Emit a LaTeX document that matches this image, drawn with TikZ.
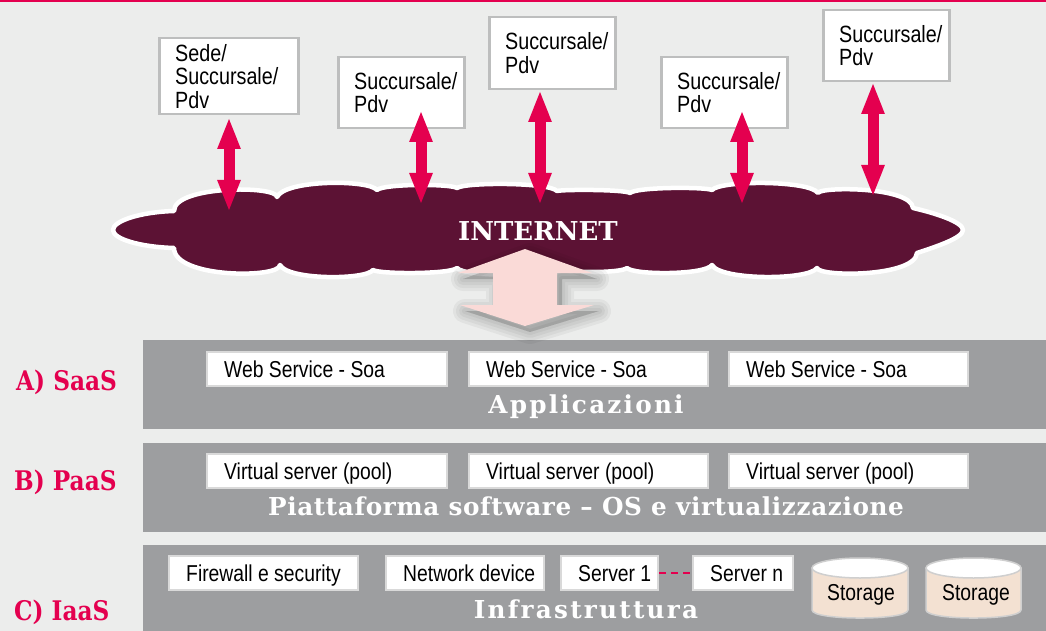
\documentclass[tikz,border=0pt]{standalone}
\usepackage{fontspec}
\setmainfont{Liberation Sans}
\newfontfamily\condsans[FakeStretch=0.84]{Liberation Sans}
\newfontfamily\tserif{DejaVu Serif}
\newfontfamily\sserif[LetterSpace=9]{DejaVu Serif}
\newfontfamily\mserif[LetterSpace=2.5]{DejaVu Serif}
\newfontfamily\lserif[FakeStretch=0.86]{DejaVu Serif}
\usetikzlibrary{arrows.meta}
\definecolor{bg}{HTML}{ECEDEC}
\definecolor{pinkred}{HTML}{E4004F}
\definecolor{wine}{HTML}{5C1234}
\definecolor{layer}{HTML}{9D9EA0}
\definecolor{lightpink}{HTML}{FADAD7}
\definecolor{boxline}{HTML}{BDBEBE}
\definecolor{iline}{HTML}{D9D9D9}
\definecolor{storage}{HTML}{F3E1D2}
\definecolor{cylline}{HTML}{CFCFCF}
\begin{document}
\begin{tikzpicture}[x=1pt,y=-1pt,
  topbox/.style={draw=boxline, line width=2.5pt, fill=white, anchor=north west, inner sep=0pt},
  toptext/.style={anchor=west, align=left, inner sep=0pt, font=\condsans\fontsize{23.5}{23.5}\selectfont},
  ibox/.style={draw=iline, line width=2pt, fill=white, anchor=north west, inner sep=0pt, minimum height=34pt},
  itext/.style={anchor=base west, inner sep=0pt, font=\condsans\fontsize{23}{24}\selectfont},
  layerbox/.style={fill=layer, anchor=north west, inner sep=0pt},
  layertitle/.style={anchor=base, inner sep=0pt, text=white, font=\mserif\bfseries\fontsize{24.7}{26}\selectfont},
  spacedtitle/.style={anchor=base, inner sep=0pt, text=white, font=\sserif\bfseries\fontsize{24.7}{26}\selectfont},
  sidelabel/.style={anchor=base west, inner sep=0pt, text=pinkred, font=\lserif\bfseries\fontsize{27}{28}\selectfont},
  pinkarrow/.style={line width=11pt, draw=pinkred, {Triangle[length=32pt,width=21pt]}-{Triangle[length=32pt,width=21pt]}},
  cyl/.style={draw=cylline, line width=1.5pt},
  cyltext/.style={inner sep=0pt, font=\condsans\fontsize{23}{24}\selectfont}
]
% background
\fill[bg] (0,0) rectangle (1046,631);
\useasboundingbox (0,0) rectangle (1046,631);
\fill[pinkred] (0,0) rectangle (1046,1.8);

% cloud outline: lobes a -> b with extreme ye, e = shoulder fraction
\def\cloudpath{(113,230) .. controls (113,221) and (140,212) .. (174,211)
  \foreach \xa/\ya/\xb/\yb/\ye/\e in {174/211/277/197/190/0.0, 277/197/377/190/183/0.08, 377/190/457/188/185/0.08,
     457/188/557/191/184/0.08, 557/191/630/193/190/0.08, 630/193/712/190/188/0.08, 712/190/818/193/183/0.08,
     818/193/913/208/190/0.02}
  { .. controls ({\xa+\e*(\xb-\xa)},{(8*\ye-\ya-\yb)/6}) and ({\xb-\e*(\xb-\xa)},{(8*\ye-\ya-\yb)/6}) .. (\xb,\yb) }
  .. controls (935,213) and (963,222) .. (963,230) .. controls (963,238) and (935,247) .. (917,253)
  \foreach \xa/\ya/\xb/\yb/\ye/\e in {917/253/817/268/273/0.02, 817/268/712/265/277/0.08, 712/265/627/268/273/0.08,
     627/268/557/268/272/0.08, 557/268/457/268/275/0.08, 457/268/373/270/273/0.08, 373/270/280/265/277/0.08,
     280/265/174/248/273/0.0}
  { .. controls ({\xa+\e*(\xb-\xa)},{(8*\ye-\ya-\yb)/6}) and ({\xb-\e*(\xb-\xa)},{(8*\ye-\ya-\yb)/6}) .. (\xb,\yb) }
  .. controls (140,247) and (113,239) .. (113,230) -- cycle}
\path[draw=white, line width=4.5pt, fill=wine, line join=round] \cloudpath;
\node[anchor=base, inner sep=0pt, text=white, font=\tserif\bfseries\fontsize{26}{27}\selectfont] (inet) at (538,240) {INTERNET};

% top boxes
\node[topbox, minimum width=139pt, minimum height=76pt] (b1) at (158,37) {};
\node[topbox, minimum width=126pt, minimum height=71pt] (b2) at (337,56) {};
\node[topbox, minimum width=126pt, minimum height=72pt] (b3) at (488,16) {};
\node[topbox, minimum width=126pt, minimum height=71pt] (b4) at (660,56) {};
\node[topbox, minimum width=126pt, minimum height=71pt] (b5) at (822,9) {};
\node[toptext] (b1t) at ([xshift=17pt]b1.west) {Sede/\\Succursale/\\Pdv};
\node[toptext] (b2t) at ([xshift=17pt]b2.west) {Succursale/\\Pdv};
\node[toptext] (b3t) at ([xshift=17pt]b3.west) {Succursale/\\Pdv};
\node[toptext] (b4t) at ([xshift=17pt]b4.west) {Succursale/\\Pdv};
\node[toptext] (b5t) at ([xshift=17pt]b5.west) {Succursale/\\Pdv};

% small double arrows
\coordinate (a1t) at (229,117); \coordinate (a1b) at (229,212);
\coordinate (a2t) at (421,110); \coordinate (a2b) at (421,205);
\coordinate (a3t) at (540,90);  \coordinate (a3b) at (540,205);
\coordinate (a4t) at (742,110); \coordinate (a4b) at (742,205);
\coordinate (a5t) at (873,82);  \coordinate (a5b) at (873,197);
\draw[pinkarrow] (a1t) -- (a1b);
\draw[pinkarrow] (a2t) -- (a2b);
\draw[pinkarrow] (a3t) -- (a3b);
\draw[pinkarrow] (a4t) -- (a4b);
\draw[pinkarrow] (a5t) -- (a5b);

% layers
\node[layerbox, minimum width=903pt, minimum height=89pt] (LA) at (143,340) {};
\node[layerbox, minimum width=903pt, minimum height=89pt] (LB) at (143,443) {};
\node[layerbox, minimum width=903pt, minimum height=86pt] (LC) at (143,545) {};

% big pink double arrow with shadow
\def\bigarrpath{(525,249) -- (592,273) -- (557,273) -- (557,305) -- (594,305) -- (525,326) -- (460,305) -- (493,305) -- (493,273) -- (458,273) -- cycle}
\foreach \w in {24,18,12,6} {
  \path[shift={(5,6)}, draw=black, fill=black, line width=\w pt, line join=round, opacity=0.045] \bigarrpath;
}
\fill[lightpink] \bigarrpath;

% layer A
\node[ibox, minimum width=240pt] (wa1) at (206,351) {};
\node[ibox, minimum width=239pt] (wa2) at (468,351) {};
\node[ibox, minimum width=239pt] (wa3) at (728,351) {};
\node[itext] (wa1t) at (224,377) {Web Service - Soa};
\node[itext] (wa2t) at (486,377) {Web Service - Soa};
\node[itext] (wa3t) at (746,377) {Web Service - Soa};
\node[spacedtitle] (ta) at (586,413) {Applicazioni};

% layer B
\node[ibox, minimum width=240pt] (vb1) at (206,453) {};
\node[ibox, minimum width=239pt] (vb2) at (468,453) {};
\node[ibox, minimum width=239pt] (vb3) at (728,453) {};
\node[itext] (vb1t) at (224,479) {Virtual server (pool)};
\node[itext] (vb2t) at (486,479) {Virtual server (pool)};
\node[itext] (vb3t) at (746,479) {Virtual server (pool)};
\node[layertitle] (tb) at (586,515) {Piattaforma software – OS e virtualizzazione};

% layer C
\node[ibox, minimum width=189pt] (fw) at (168,555) {};
\node[ibox, minimum width=158pt] (nd) at (385,555) {};
\node[ibox, minimum width=97pt] (s1) at (560,555) {};
\node[ibox, minimum width=100pt] (sn) at (692,555) {};
\node[itext] (fwt) at (186,581) {Firewall e security};
\node[itext] (ndt) at (403,581) {Network device};
\node[itext] (s1t) at (578,581) {Server 1};
\node[itext] (snt) at (710,581) {Server n};
\draw[pinkred, line width=2.5pt, dash pattern=on 7pt off 5pt] (s1.east) -- (sn.west);
\node[spacedtitle] (tc) at (586,618) {Infrastruttura};

% storage cylinders
\filldraw[cyl, fill=storage] (812,568) -- (812,610) .. controls (812,620.7) and (908,620.7) .. (908,610) -- (908,568) -- cycle;
\filldraw[cyl, fill=white] (860,568) ellipse [x radius=48, y radius=10];
\node[cyltext] (st1) at (861,595) {Storage};
\filldraw[cyl, fill=storage] (926,568) -- (926,610) .. controls (926,620.7) and (1021,620.7) .. (1021,610) -- (1021,568) -- cycle;
\filldraw[cyl, fill=white] (973.5,568) ellipse [x radius=47.5, y radius=10];
\node[cyltext] (st2) at (976,595) {Storage};

% side labels
\node[sidelabel] (la) at (16,390) {A) SaaS};
\node[sidelabel] (lb) at (14,490) {B) PaaS};
\node[sidelabel] (lc) at (14,620) {C) IaaS};
\end{tikzpicture}
\end{document}
